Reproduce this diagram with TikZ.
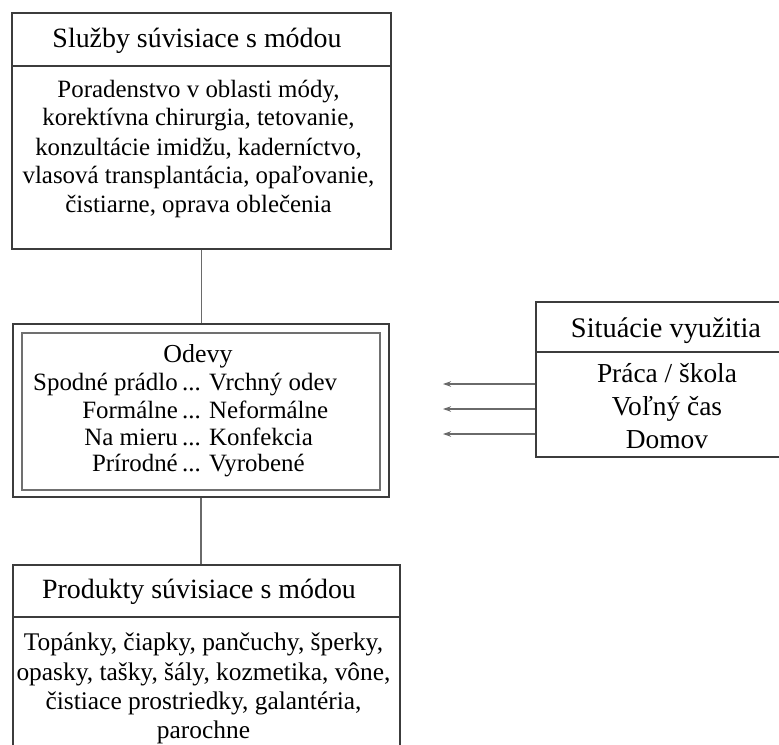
\documentclass[tikz,border=0pt]{standalone}
\usepackage{fontspec}
\setmainfont{Liberation Serif}
\usetikzlibrary{arrows.meta}
\definecolor{boxc}{HTML}{3C3C3C}
\definecolor{innerc}{HTML}{707070}
\definecolor{conc}{HTML}{6A6A6A}
\begin{document}
\begin{tikzpicture}[x=1bp,y=-1bp,
  box/.style={draw=boxc, line width=1.1bp, inner sep=0pt},
  txt/.style={anchor=base, inner sep=0pt, font=\fontsize{25}{29}\selectfont},
  ttl/.style={anchor=base, inner sep=0pt, font=\fontsize{28}{31}\selectfont},
  con/.style={draw=conc, line width=1.1bp},
  arr/.style={draw=conc, line width=1.1bp, -{Stealth[length=8bp,width=5.5bp]}}]
\clip (0,0) rectangle (779,745);
\fill[white] (0,0) rectangle (779,745);

% top box
\node[box, minimum width=379bp, minimum height=236bp] (sl) at (201.5,131) {};
\draw[boxc, line width=1.1bp] (12,66) -- (391,66);
\node[ttl] (slt) at (197,48) {Služby súvisiace s módou};
\node[txt] (s1) at (198.5,97) {Poradenstvo v oblasti módy,};
\node[txt] (s2) at (198.5,125.5) {korektívna chirurgia, tetovanie,};
\node[txt] (s3) at (198.5,155) {konzultácie imidžu, kaderníctvo,};
\node[txt] (s4) at (198.5,183.5) {vlasová transplantácia, opaľovanie,};
\node[txt] (s5) at (198.5,212.5) {čistiarne, oprava oblečenia};

% odevy
\node[box, minimum width=376bp, minimum height=173bp] (od) at (201,410.5) {};
\node[draw=innerc, line width=1.1bp, inner sep=0pt, minimum width=358bp, minimum height=157bp] (odi) at (201,411.5) {};
\node[txt, font=\fontsize{26}{29}\selectfont] (odt) at (198,362) {Odevy};
\node[txt, anchor=base east] (l1) at (178,390) {Spodné prádlo};
\node[txt, anchor=base west] (r1) at (182,390) {... Vrchný odev};
\node[txt, anchor=base east] (l2) at (178,418) {Formálne};
\node[txt, anchor=base west] (r2) at (182,418) {... Neformálne};
\node[txt, anchor=base east] (l3) at (178,445) {Na mieru};
\node[txt, anchor=base west] (r3) at (182,445) {... Konfekcia};
\node[txt, anchor=base east] (l4) at (178,471) {Prírodné};
\node[txt, anchor=base west] (r4) at (182,471) {... Vyrobené};

% products
\node[box, minimum width=387bp, minimum height=210bp] (pr) at (206.5,670) {};
\draw[boxc, line width=1.1bp] (13,617) -- (400,617);
\node[ttl] (prt) at (199,598) {Produkty súvisiace s módou};
\node[txt, font=\fontsize{25.5}{29}\selectfont] (p1) at (203.5,650) {Topánky, čiapky, pančuchy, šperky,};
\node[txt, font=\fontsize{25.5}{29}\selectfont] (p2) at (203.5,680) {opasky, tašky, šály, kozmetika, vône,};
\node[txt, font=\fontsize{25.5}{29}\selectfont] (p3) at (203.5,709) {čistiace prostriedky, galantéria,};
\node[txt, font=\fontsize{25.5}{29}\selectfont] (p4) at (203.5,738) {parochne};

% situations
\node[box, minimum width=264bp, minimum height=155bp] (si) at (668,379.5) {};
\draw[boxc, line width=1.1bp] (536,352) -- (800,352);
\node[ttl, font=\fontsize{28.5}{31}\selectfont] (sit) at (666,337) {Situácie využitia};
\node[txt, font=\fontsize{27.5}{31}\selectfont] (q1) at (667,382) {Práca / škola};
\node[txt, font=\fontsize{27.5}{31}\selectfont] (q2) at (667,415) {Voľný čas};
\node[txt, font=\fontsize{27.5}{31}\selectfont] (q3) at (667,448) {Domov};

% connectors
\draw[con] (sl.south) -- (sl.south |- od.north);
\draw[con] (od.south) -- (od.south |- pr.north);
\coordinate (a1) at (443,384);
\coordinate (a2) at (443,409);
\coordinate (a3) at (443,434);
\draw[arr] (si.west |- a1) -- (a1);
\draw[arr] (si.west |- a2) -- (a2);
\draw[arr] (si.west |- a3) -- (a3);
\end{tikzpicture}
\end{document}
